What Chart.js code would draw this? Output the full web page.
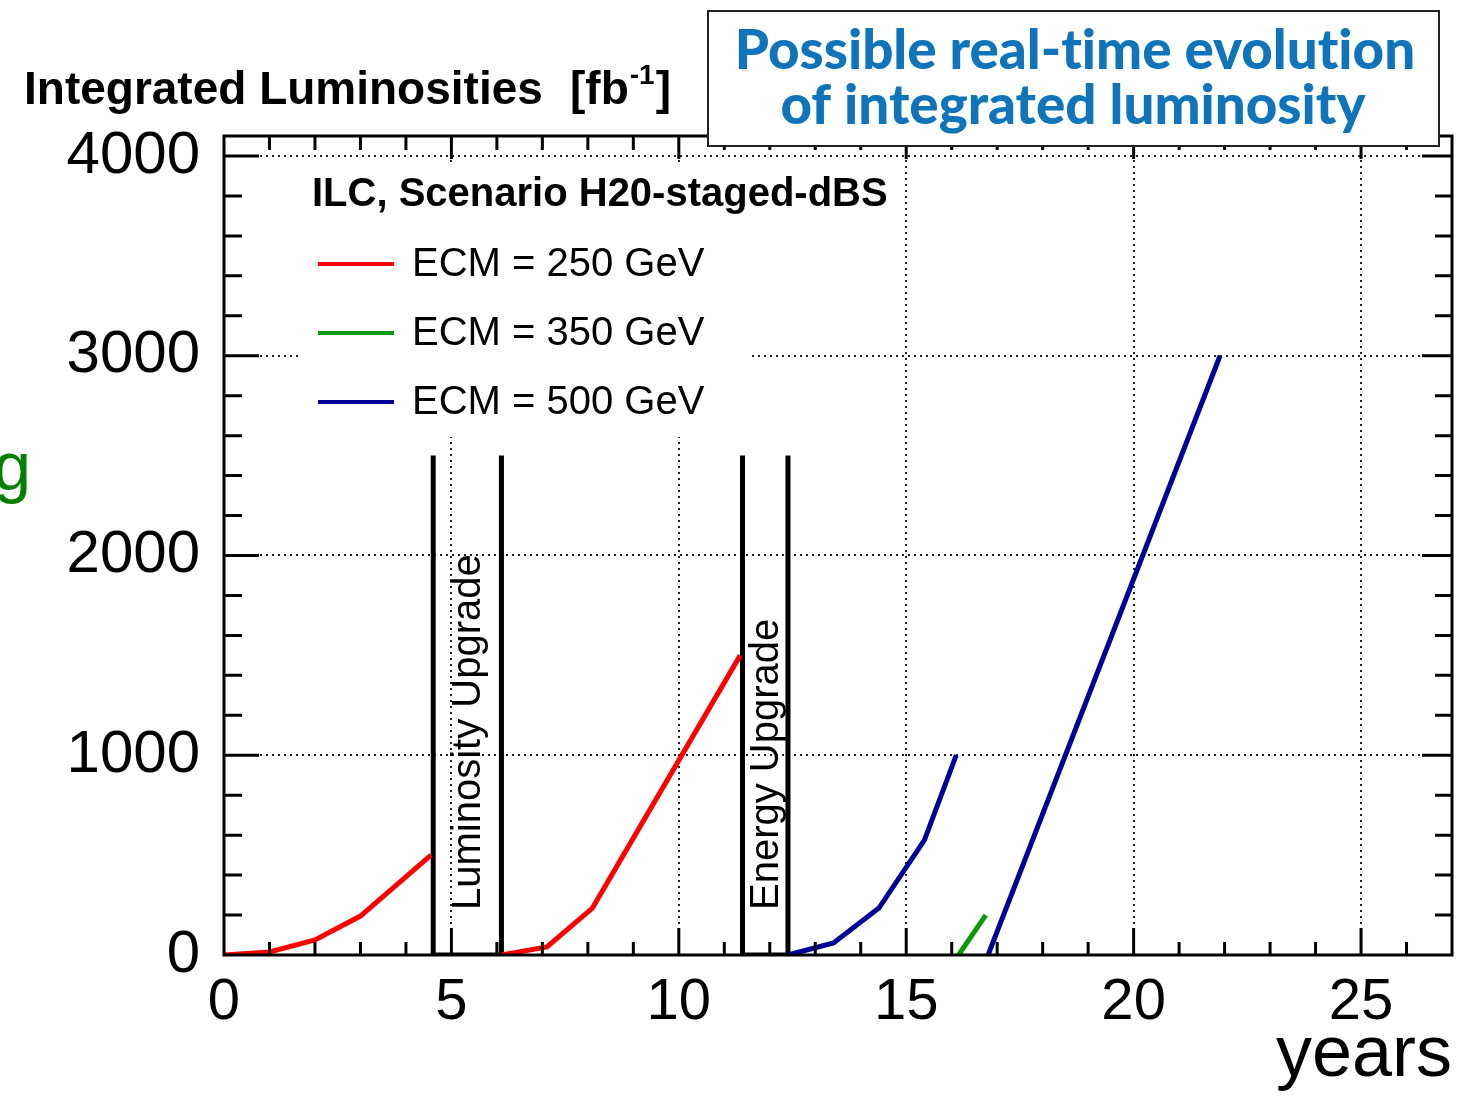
<!DOCTYPE html>
<html>
<head>
<meta charset="utf-8">
<title>Integrated luminosity</title>
<script src="https://cdn.jsdelivr.net/npm/chart.js@4.4.1/dist/chart.umd.min.js"></script>
<style>
  html, body { margin: 0; padding: 0; background: #fff; }
  #wrap { width: 1479px; height: 1099px; }
</style>
</head>
<body>
<div id="wrap"><canvas id="lumi-chart" width="1479" height="1099"></canvas></div>
<script>
// integrated luminosity (fb^-1) vs. years of running
const years250a = [0, 1, 2, 3, 4.55];
const lumi250a = [0, 15, 75, 195, 500];
const years250b = [6.1, 7.1, 8.1, 11.35];
const lumi250b = [0, 40, 235, 1500];
const years350 = [16.15, 16.75];
const lumi350 = [0, 200];
const years500a = [12.4, 13.4, 14.4, 15.4, 16.1];
const lumi500a = [0, 60, 235, 575, 1000];
const years500b = [16.8, 21.9];
const lumi500b = [0, 3000];

// shutdowns between the running periods
const shutdownStart = [4.6, 11.4];
const shutdownEnd = [6.1, 12.4];
const shutdownLabels = ["Luminosity Upgrade", "Energy Upgrade"];
const shutdownHeight = 2500;

const legendLabels = ["ECM = 250 GeV", "ECM = 350 GeV", "ECM = 500 GeV"];
const seriesColors = ["#ff0000", "#0a9a0a", "#000099"];

const xTicks = [0, 5, 10, 15, 20, 25];
const yTicks = [0, 1000, 2000, 3000, 4000];

const FONT = "'Liberation Sans', Arial, sans-serif";
const CAPTION_FONT = "Lato, 'Open Sans', sans-serif";

const pts = (xs, ys) => xs.map((x, i) => ({ x: x, y: ys[i] }));

function line(xs, ys, color, width) {
  return { data: pts(xs, ys), borderColor: color, borderWidth: width || 5, pointRadius: 0, tension: 0, fill: false };
}

function shutdownBox(i) {
  const s = shutdownStart[i], e = shutdownEnd[i];
  return line([s, s, e, e], [shutdownHeight, 0, 0, shutdownHeight], "#000", 5);
}

// white patch behind the legend so the grid doesn't run through it
const legendPatch = {
  id: "legendPatch",
  beforeDatasetsDraw(chart) {
    const ctx = chart.ctx;
    ctx.save();
    ctx.fillStyle = "#fff";
    ctx.fillRect(298, 165, 452, 272);
    ctx.restore();
  }
};

// ROOT style frame with inward ticks on all four sides
const frame = {
  id: "frame",
  afterDatasetsDraw(chart) {
    const { ctx, chartArea: a, scales: { x, y } } = chart;
    ctx.save();
    ctx.strokeStyle = "#000";
    ctx.lineWidth = 3;
    ctx.beginPath();
    for (let v = 1; v < 27; v++) {
      const px = x.getPixelForValue(v);
      const major = v % 5 === 0;
      ctx.moveTo(px, a.bottom);
      ctx.lineTo(px, a.bottom - (major ? 27 : 13));
      ctx.moveTo(px, a.top);
      ctx.lineTo(px, a.top + (major ? 23 : 14));
    }
    for (let v = 200; v <= 4000; v += 200) {
      const py = y.getPixelForValue(v);
      const major = v % 1000 === 0;
      ctx.moveTo(a.left, py);
      ctx.lineTo(a.left + (major ? 35 : 18), py);
      ctx.moveTo(a.right, py);
      ctx.lineTo(a.right - (major ? 30 : 17), py);
    }
    ctx.stroke();
    ctx.strokeRect(a.left, a.top, a.width, a.height);
    ctx.restore();
  }
};

const annotations = {
  id: "annotations",
  afterDraw(chart) {
    const { ctx, scales: { x, y } } = chart;
    ctx.save();

    // shutdown labels, reading upwards
    ctx.fillStyle = "#000";
    ctx.font = "40px " + FONT;
    ctx.textAlign = "left";
    ctx.textBaseline = "alphabetic";
    shutdownLabels.forEach((label, i) => {
      const px = x.getPixelForValue((shutdownStart[i] + shutdownEnd[i]) / 2);
      ctx.save();
      ctx.translate(px + 12.5, y.getPixelForValue(0) - 45);
      ctx.rotate(-Math.PI / 2);
      ctx.fillText(label, 0, 0);
      ctx.restore();
    });

    // legend
    ctx.font = "bold 40px " + FONT;
    ctx.textBaseline = "middle";
    ctx.fillText("ILC, Scenario H20-staged-dBS", 312, 195);
    ctx.font = "40px " + FONT;
    legendLabels.forEach((label, i) => {
      const ly = 264 + i * 69;
      ctx.strokeStyle = seriesColors[i];
      ctx.lineWidth = 4;
      ctx.beginPath();
      ctx.moveTo(318, ly);
      ctx.lineTo(394, ly);
      ctx.stroke();
      ctx.fillText(label, 412, ly + 1);
    });

    // y axis title
    ctx.textBaseline = "alphabetic";
    ctx.font = "bold 46px " + FONT;
    ctx.fillText("Integrated Luminosities", 24, 104);
    let tx = 570;
    ctx.fillText("[fb", tx, 104);
    tx += ctx.measureText("[fb").width + 1;
    ctx.font = "bold 28px " + FONT;
    ctx.fillText("-1", tx, 84);
    tx += ctx.measureText("-1").width + 1;
    ctx.font = "bold 46px " + FONT;
    ctx.fillText("]", tx, 104);

    // caption box
    ctx.fillStyle = "#fff";
    ctx.fillRect(708, 11, 731, 135);
    ctx.strokeStyle = "#222";
    ctx.lineWidth = 2;
    ctx.strokeRect(708, 11, 731, 135);
    ctx.fillStyle = "#0f74ba";
    ctx.textAlign = "center";
    // ZWNJ keeps "ti" from turning into a ligature
    const cap1 = "Possible real-t\u200Cime evolut\u200Cion";
    const cap2 = "of integrated luminosity";
    ctx.font = "900 46px " + CAPTION_FONT;
    const w1 = ctx.measureText(cap1).width;
    const size = 46 * 680 / w1;
    ctx.font = "900 " + size.toFixed(1) + "px " + CAPTION_FONT;
    ctx.fillText(cap1, 1075, 69);
    ctx.fillText(cap2, 1073, 124);

    // cut-off letter at the left edge
    ctx.fillStyle = "#007f00";
    ctx.textAlign = "right";
    ctx.font = "68px " + FONT;
    ctx.fillText("g", 31, 490);

    ctx.restore();
  }
};

const ctx = document.getElementById("lumi-chart").getContext("2d");
const chart = new Chart(ctx, {
  type: "line",
  data: {
    datasets: [
      line(years250a, lumi250a, seriesColors[0]),
      line(years250b, lumi250b, seriesColors[0]),
      line(years350, lumi350, seriesColors[1]),
      line(years500a, lumi500a, seriesColors[2]),
      line(years500b, lumi500b, seriesColors[2]),
      shutdownBox(0),
      shutdownBox(1),
    ],
  },
  options: {
    responsive: false,
    animation: false,
    devicePixelRatio: 1,
    layout: { padding: { left: 0, top: 136, right: 27, bottom: 0 } },
    plugins: {
      legend: { display: false },
      tooltip: { enabled: false },
    },
    scales: {
      x: {
        type: "linear",
        min: 0,
        max: 27,
        afterBuildTicks: (s) => { s.ticks = xTicks.map((v) => ({ value: v })); },
        afterFit: (s) => { s.height = 144; },
        ticks: {
          color: "#000",
          font: { family: FONT, size: 58 },
          padding: 13,
          maxRotation: 0,
          autoSkip: false,
          callback: (v) => String(v),
        },
        grid: { color: "#222", lineWidth: 2, drawTicks: false },
        border: { display: false, dash: [2, 4] },
        title: {
          display: true,
          text: "years",
          align: "end",
          color: "#000",
          font: { family: FONT, size: 72 },
          padding: { top: 0, bottom: 0 },
        },
      },
      y: {
        min: 0,
        max: 4100,
        afterBuildTicks: (s) => { s.ticks = yTicks.map((v) => ({ value: v })); },
        afterFit: (s) => { s.width = 224; },
        ticks: {
          color: "#000",
          font: { family: FONT, size: 60 },
          padding: 24,
          callback: (v) => String(v),
        },
        grid: { color: "#222", lineWidth: 2, drawTicks: false },
        border: { display: false, dash: [2, 4] },
      },
    },
  },
  plugins: [legendPatch, frame, annotations],
});
</script>
</body>
</html>
